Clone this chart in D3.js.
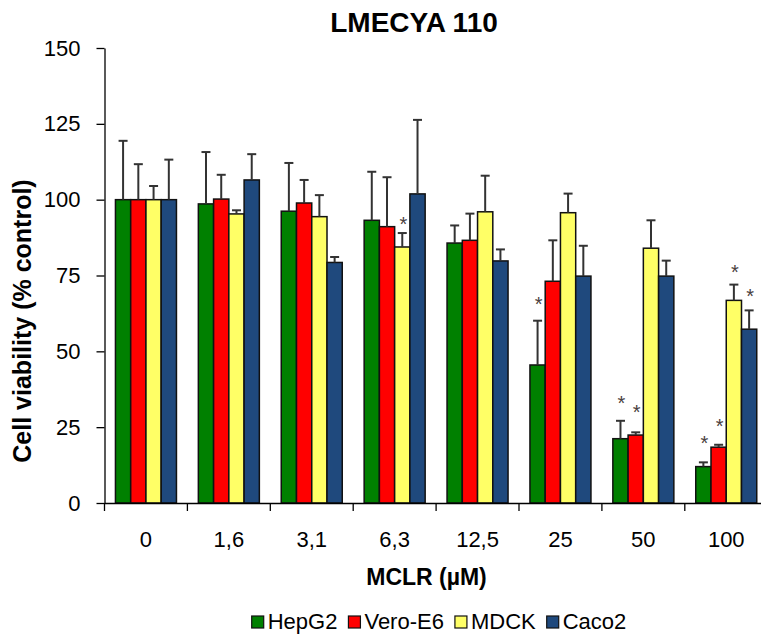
<!DOCTYPE html>
<html>
<head>
<meta charset="utf-8">
<script src="https://cdn.jsdelivr.net/npm/d3@7"></script>
<style>
  html, body { margin: 0; padding: 0; background: #fff; }
  svg { display: block; overflow: hidden; }
  text { font-family: Arial, "Liberation Sans", sans-serif; fill: #000; }
</style>
</head>
<body>
<svg id="chart" width="761" height="634"></svg>
<script>
const categories = ["0", "1,6", "3,1", "6,3", "12,5", "25", "50", "100"];
const seriesNames = ["HepG2", "Vero-E6", "MDCK", "Caco2"];
const seriesColors = ["#008000", "#FF0000", "#FFFF66", "#1F497D"];

const hepg2 = [100, 98.6, 96.2, 93.2, 85.7, 45.5, 21.2, 12.0];
const vero  = [100, 100.2, 98.9, 91.1, 86.6, 73.1, 22.4, 18.4];
const mdck  = [100, 95.3, 94.4, 84.4, 96.0, 95.7, 84.0, 66.8];
const caco2 = [100, 106.5, 79.3, 101.9, 79.8, 74.8, 74.8, 57.3];

const hepg2Err = [19.4, 17.1, 15.9, 16.0, 5.8, 14.6, 5.9, 1.4];
const veroErr  = [11.7, 8.0, 7.6, 16.3, 8.8, 13.5, 0.9, 0.8];
const mdckErr  = [4.5, 1.2, 7.1, 4.6, 11.9, 6.3, 9.2, 5.2];
const caco2Err = [13.2, 8.5, 1.8, 24.4, 3.8, 10.0, 5.1, 6.2];

// level (in % control) at which a significance star is shown, null = none
const hepg2Star = [null, null, null, null, null, 66.9, 34.4, 21.1];
const veroStar  = [null, null, null, null, null, null, 31.4, 26.8];
const mdckStar  = [null, null, null, 93.3, null, null, null, 77.5];
const caco2Star = [null, null, null, null, null, null, null, 69.6];

const yTicks = [0, 25, 50, 75, 100, 125, 150];

const values = [hepg2, vero, mdck, caco2];
const errors = [hepg2Err, veroErr, mdckErr, caco2Err];
const stars = [hepg2Star, veroStar, mdckStar, caco2Star];

const rows = [];
categories.forEach((c, ci) => {
  seriesNames.forEach((s, si) => {
    rows.push({cat: c, series: s, si, value: values[si][ci], err: errors[si][ci], star: stars[si][ci]});
  });
});

const svg = d3.select("#chart");
const x0Left = 104.5, groupW = 82.9;
const x0 = d3.scaleBand().domain(categories).range([x0Left, x0Left + groupW * categories.length]).padding(0);
const x1 = d3.scaleBand().domain(seriesNames).range([0, x0.bandwidth()]).paddingInner(0).paddingOuter(0.718);
const y = d3.scaleLinear().domain([0, 150]).range([503, 48]);
const color = d3.scaleOrdinal().domain(seriesNames).range(seriesColors);

// Bars
svg.append("g").selectAll("rect").data(rows).join("rect")
  .attr("x", d => x0(d.cat) + x1(d.series))
  .attr("y", d => y(d.value))
  .attr("width", x1.bandwidth())
  .attr("height", d => y(0) - y(d.value))
  .attr("fill", d => color(d.series))
  .attr("stroke", "#111")
  .attr("stroke-width", 1.5);

// Error bars (upper only)
const eg = svg.append("g").attr("stroke", "#333").attr("stroke-width", 2);
rows.forEach(d => {
  const cx = x0(d.cat) + x1(d.series) + x1.bandwidth() / 2;
  const top = y(d.value + d.err);
  eg.append("line").attr("x1", cx).attr("x2", cx).attr("y1", y(d.value)).attr("y2", top);
  eg.append("line").attr("x1", cx - 4.5).attr("x2", cx + 4.5).attr("y1", top).attr("y2", top);
});

// Stars
svg.append("g").selectAll("text").data(rows.filter(d => d.star !== null)).join("text")
  .attr("x", d => x0(d.cat) + x1(d.series) + x1.bandwidth() / 2 + 1)
  .attr("y", d => y(d.star) + 11)
  .attr("text-anchor", "middle")
  .style("font-size", "20px")
  .style("fill", "#4a4040")
  .text("*");

// Y axis
const yAxis = svg.append("g").attr("transform", `translate(${x0Left},0)`)
  .call(d3.axisLeft(y).tickValues(yTicks).tickSize(8).tickPadding(16).tickSizeOuter(0));
yAxis.selectAll("text").style("font-size", "22px").style("font-family", "Arial, 'Liberation Sans', sans-serif").attr("fill", "#000");
yAxis.selectAll("line, path").attr("stroke", "#000").attr("stroke-width", 1.3);

// X axis
const xAxis = svg.append("g").attr("transform", `translate(0,${y(0)})`)
  .call(d3.axisBottom(x0).tickSize(0).tickPadding(28).tickSizeOuter(0));
xAxis.selectAll("text").style("font-size", "22px").style("font-family", "Arial, 'Liberation Sans', sans-serif").attr("fill", "#000");
xAxis.select("path").attr("stroke", "#000").attr("stroke-width", 1.3);
xAxis.selectAll(".bound").data(categories).join("line").attr("class", "bound")
  .attr("x1", d => x0(d)).attr("x2", d => x0(d)).attr("y1", 0).attr("y2", 8)
  .attr("stroke", "#000").attr("stroke-width", 1.3);

// Title
svg.append("text").attr("x", 414).attr("y", 32).attr("text-anchor", "middle")
  .style("font-size", "28px").style("font-weight", "bold").text("LMECYA 110");

// Axis titles
svg.append("text").attr("x", 426.5).attr("y", 585).attr("text-anchor", "middle")
  .style("font-size", "23px").style("font-weight", "bold").text("MCLR (\u00B5M)");
svg.append("text").attr("transform", "translate(31,321) rotate(-90)").attr("text-anchor", "middle")
  .style("font-size", "25px").style("font-weight", "bold").text("Cell viability (% control)");

// Legend
const lg = svg.append("g");
let lx = 0;
seriesNames.forEach((s, i) => {
  const g = lg.append("g");
  g.append("rect").attr("x", 0).attr("y", -12.5).attr("width", 12).attr("height", 12)
    .attr("fill", seriesColors[i]).attr("stroke", "#111").attr("stroke-width", 1.2);
  const t = g.append("text").attr("x", 16).attr("y", 0).style("font-size", "22px").text(s);
  const w = 16 + t.node().getComputedTextLength();
  g.attr("transform", `translate(${lx},0)`);
  lx += w + 11;
});
const totalW = lx - 11;
lg.attr("transform", `translate(${439 - totalW / 2},628.5)`);
</script>
</body>
</html>
